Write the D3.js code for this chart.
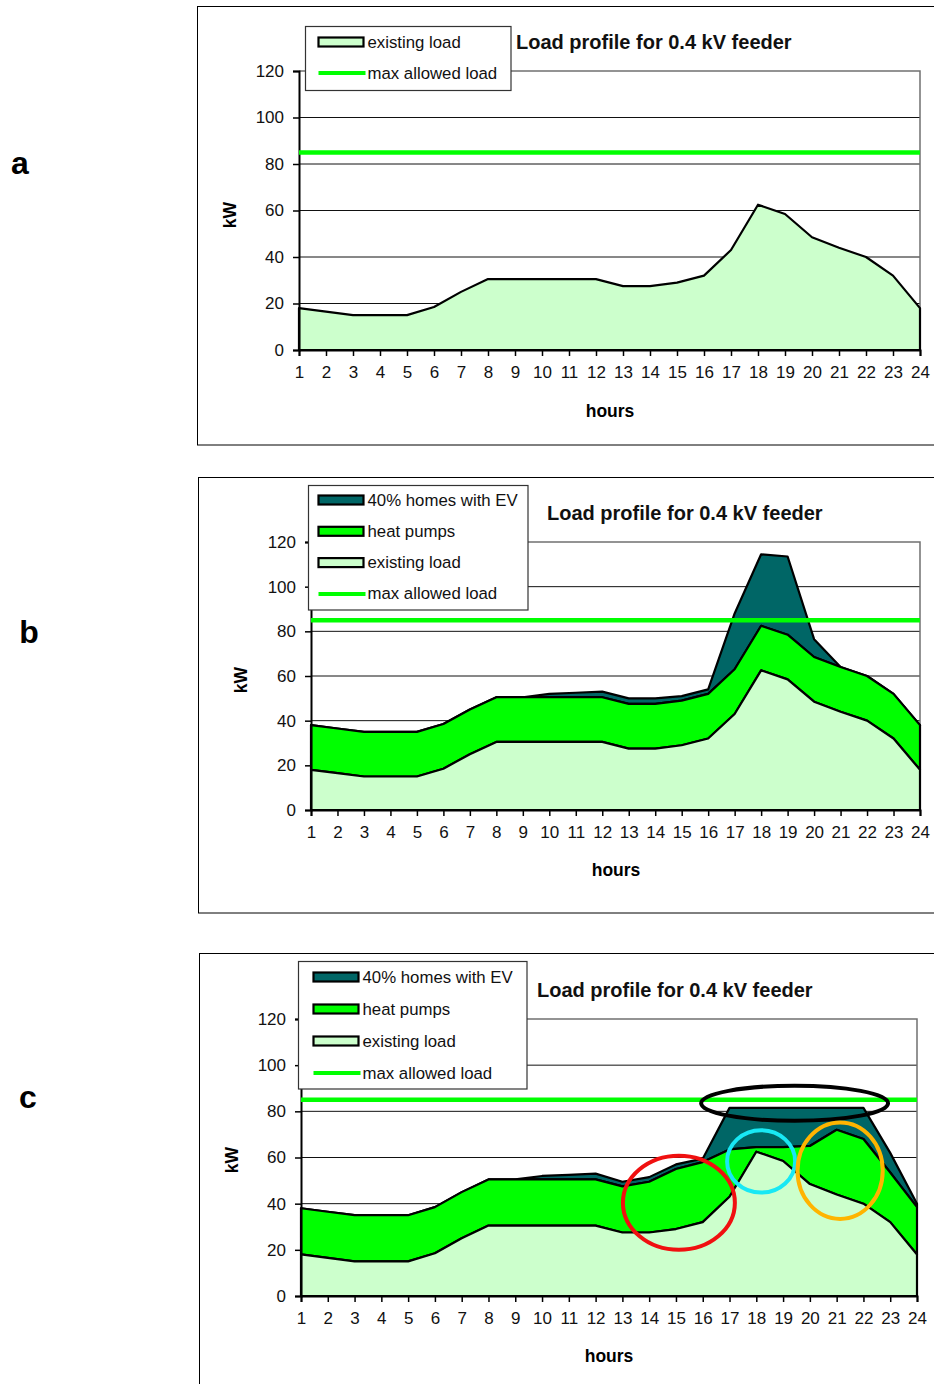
<!DOCTYPE html>
<html>
<head>
<meta charset="utf-8">
<script src="https://cdn.jsdelivr.net/npm/d3@7"></script>
<style>
  body { margin: 0; background: #fff; }
  svg { display: block; font-family: "Liberation Sans", Arial, Helvetica, sans-serif; }
</style>
</head>
<body>
<svg id="fig" width="934" height="1384"></svg>
<script>
// ---- data ----------------------------------------------------------------
const hours = [1, 2, 3, 4, 5, 6, 7, 8, 9, 10, 11, 12, 13, 14, 15, 16, 17, 18, 19, 20, 21, 22, 23, 24];
const kwTicks = [0, 20, 40, 60, 80, 100, 120];

// existing household load, kW
const existingLoad = [18, 16.5, 15, 15, 15, 18.5, 25, 30.5, 30.5, 30.5, 30.5, 30.5,
                      27.5, 27.5, 29, 32, 43, 62.5, 58.5, 48.5, 44, 40, 32, 18];

// scenario b: uncontrolled heat pumps and EV charging, kW
const heatPumpsB = [20, 20, 20, 20, 20, 20, 20, 20, 20, 20, 20, 20,
                    20, 20, 20, 20, 20, 20, 20, 20, 20, 20, 20, 20];
const evB = [0, 0, 0, 0, 0, 0, 0, 0, 0, 1.5, 2, 2.5,
             2.5, 2.5, 2, 2, 25, 32, 35, 8, 0, 0, 0, 0];

// scenario c: shifted heat pumps and EV charging, kW
const heatPumpsC = [20, 20, 20, 20, 20, 20, 20, 20, 20, 20, 20, 20,
                    20, 22, 26, 26, 20.5, 2, 6, 16.5, 28, 28, 21.5, 20.5];
const evC = [0, 0, 0, 0, 0, 0, 0, 0, 0, 1.5, 2, 2.5,
             2, 2, 2, 1.5, 18, 17, 17, 16.5, 9.5, 13.5, 8.5, 1.5];

const maxAllowedLoad = 85;

const chartTitle = "Load profile for 0.4 kV feeder";
const xTitle = "hours";
const yTitle = "kW";
const labelEV = "40% homes with EV";
const labelHP = "heat pumps";
const labelExisting = "existing load";
const labelMax = "max allowed load";

// highlight rings on panel c: centre (hour, kW) and radii (hours, kW)
const rings = [
  { hour: 19.43, kw: 83.5, rh: 3.49, rk: 7.6, color: "#000000" },
  { hour: 15.11, kw: 40.4, rh: 2.09, rk: 20.4, color: "#f01010" },
  { hour: 18.18, kw: 58.3, rh: 1.27, rk: 13.5, color: "#18e8f4" },
  { hour: 21.13, kw: 54.3, rh: 1.59, rk: 20.9, color: "#ffb400" }
];

// ---- styles ----------------------------------------------------------------
const colExisting = "#ccffcc";
const colHP = "#00ff00";
const colEV = "#006666";
const colMax = "#00ff00";

const svg = d3.select("#fig");

function drawPanel(p) {
  const g = svg.append("g");

  // panel frame
  g.append("rect")
    .attr("x", p.box.x).attr("y", p.box.y)
    .attr("width", p.box.w).attr("height", p.box.h)
    .attr("fill", "#fff").attr("stroke", "#000").attr("stroke-width", 1);

  // panel letter
  g.append("text")
    .attr("x", p.letter.x).attr("y", p.letter.y)
    .attr("text-anchor", "middle")
    .attr("font-size", 32).attr("font-weight", "bold")
    .text(p.letter.t);

  const x = d3.scaleLinear().domain([1, 24]).range([p.left, p.right]);
  const y = d3.scaleLinear().domain([0, 120]).range([p.bottom, p.top]);

  // horizontal gridlines
  g.append("g").selectAll("line")
    .data(kwTicks.filter(v => v > 0 && v < 120))
    .join("line")
    .attr("x1", p.left).attr("x2", p.right)
    .attr("y1", d => y(d)).attr("y2", d => y(d))
    .attr("stroke", "#111").attr("stroke-width", 1);

  // plot border (top and right)
  g.append("path")
    .attr("d", `M${p.left},${y(120)}H${p.right}V${y(0)}`)
    .attr("fill", "none").attr("stroke", "#707070").attr("stroke-width", 1.5);

  // stacked layers
  const rows = hours.map((h, i) => ({
    hour: h,
    existing: existingLoad[i],
    hp: p.hp ? p.hp[i] : 0,
    ev: p.ev ? p.ev[i] : 0
  }));
  const keys = ["existing"];
  if (p.hp) keys.push("hp");
  if (p.ev) keys.push("ev");
  const stacked = d3.stack().keys(keys)(rows);
  const fills = { existing: colExisting, hp: colHP, ev: colEV };

  const area = d3.area()
    .x(d => x(d.data.hour))
    .y0(d => y(d[0]))
    .y1(d => y(d[1]));

  // draw top layers first so the lower boundaries stay visible on top
  g.append("g").selectAll("path")
    .data(stacked.slice().reverse())
    .join("path")
    .attr("d", d => area(d) + "Z")
    .attr("fill", d => fills[d.key])
    .attr("stroke", "#000").attr("stroke-width", 2.2)
    .attr("stroke-linejoin", "round");

  // axes
  const yAxis = g.append("g")
    .attr("transform", `translate(${p.left},0)`)
    .call(d3.axisLeft(y).tickValues(kwTicks).tickSize(6).tickPadding(9).tickFormat(d3.format("d")));
  const xAxis = g.append("g")
    .attr("transform", `translate(0,${p.bottom})`)
    .call(d3.axisBottom(x).tickValues(hours).tickSize(6).tickPadding(9).tickFormat(d3.format("d")));
  [yAxis, xAxis].forEach(a => {
    a.select(".domain").attr("stroke", "#000").attr("stroke-width", 2);
    a.selectAll(".tick line").attr("stroke", "#000").attr("stroke-width", 1.5);
    a.selectAll(".tick text")
      .attr("font-size", 17).attr("fill", "#111")
      .attr("font-family", "'Liberation Sans', Arial, sans-serif");
  });
  xAxis.selectAll(".tick text").attr("dy", "0.75em");

  // max allowed load
  g.append("line")
    .attr("x1", p.left).attr("x2", p.right)
    .attr("y1", y(maxAllowedLoad)).attr("y2", y(maxAllowedLoad))
    .attr("stroke", colMax).attr("stroke-width", 4.5);

  // highlight rings
  if (p.rings) {
    g.append("g").selectAll("ellipse")
      .data(p.rings)
      .join("ellipse")
      .attr("cx", d => x(d.hour)).attr("cy", d => y(d.kw))
      .attr("rx", d => x(1 + d.rh) - x(1))
      .attr("ry", d => y(0) - y(d.rk))
      .attr("fill", "none").attr("stroke", d => d.color).attr("stroke-width", 4);
  }

  // axis titles
  g.append("text")
    .attr("x", p.xt.x).attr("y", p.xt.y)
    .attr("text-anchor", "middle").attr("dominant-baseline", "central")
    .attr("font-size", 17.5).attr("font-weight", "bold")
    .text(xTitle);
  g.append("text")
    .attr("transform", `translate(${p.yt.x},${p.yt.y}) rotate(-90)`)
    .attr("text-anchor", "middle").attr("dominant-baseline", "central")
    .attr("font-size", 17.5).attr("font-weight", "bold")
    .text(yTitle);

  // legend
  const lg = g.append("g");
  lg.append("rect")
    .attr("x", p.legend.x).attr("y", p.legend.y)
    .attr("width", p.legend.w).attr("height", p.legend.h)
    .attr("fill", "#fff").attr("stroke", "#333").attr("stroke-width", 1.2);
  const items = [];
  if (p.ev) items.push({ type: "area", fill: colEV, label: labelEV });
  if (p.hp) items.push({ type: "area", fill: colHP, label: labelHP });
  items.push({ type: "area", fill: colExisting, label: labelExisting });
  items.push({ type: "line", fill: colMax, label: labelMax });
  items.forEach((it, i) => {
    const cy = p.legend.first + i * p.legend.step;
    const sx = p.legend.x + p.legend.pad;
    if (it.type === "area") {
      lg.append("rect")
        .attr("x", sx).attr("y", cy - 4.5)
        .attr("width", 45).attr("height", 9)
        .attr("fill", it.fill).attr("stroke", "#000").attr("stroke-width", 2.2);
    } else {
      lg.append("line")
        .attr("x1", sx).attr("x2", sx + 47)
        .attr("y1", cy).attr("y2", cy)
        .attr("stroke", it.fill).attr("stroke-width", 4);
    }
    lg.append("text")
      .attr("x", sx + 49).attr("y", cy)
      .attr("dominant-baseline", "central")
      .attr("font-size", 16.8).attr("fill", "#111")
      .text(it.label);
  });

  // chart title
  g.append("text")
    .attr("x", p.title.x).attr("y", p.title.y)
    .attr("dominant-baseline", "central")
    .attr("font-size", 20).attr("font-weight", "bold").attr("fill", "#111")
    .text(chartTitle);
}

drawPanel({
  box: { x: 197.5, y: 6.5, w: 800, h: 438.5 },
  letter: { x: 20, y: 174, t: "a" },
  left: 299, right: 920, top: 71, bottom: 350,
  legend: { x: 305.5, y: 26.5, w: 205.5, h: 64, pad: 13, first: 42, step: 31 },
  title: { x: 516, y: 42 },
  xt: { x: 610, y: 411 }, yt: { x: 230, y: 215 }
});

drawPanel({
  box: { x: 198.5, y: 477.5, w: 800, h: 435.5 },
  letter: { x: 29, y: 643, t: "b" },
  left: 311, right: 920, top: 542, bottom: 810,
  hp: heatPumpsB, ev: evB,
  legend: { x: 308.5, y: 485.5, w: 219.5, h: 124.5, pad: 10, first: 500, step: 31.3 },
  title: { x: 547, y: 513 },
  xt: { x: 616, y: 870 }, yt: { x: 241, y: 680 }
});

drawPanel({
  box: { x: 199.5, y: 953.5, w: 800, h: 500 },
  letter: { x: 28, y: 1108, t: "c" },
  left: 301, right: 917, top: 1019, bottom: 1296,
  hp: heatPumpsC, ev: evC, rings: rings,
  legend: { x: 298.5, y: 961.5, w: 228.5, h: 127.5, pad: 15, first: 977, step: 32 },
  title: { x: 537, y: 990 },
  xt: { x: 609, y: 1356 }, yt: { x: 232, y: 1160 }
});
</script>
</body>
</html>
